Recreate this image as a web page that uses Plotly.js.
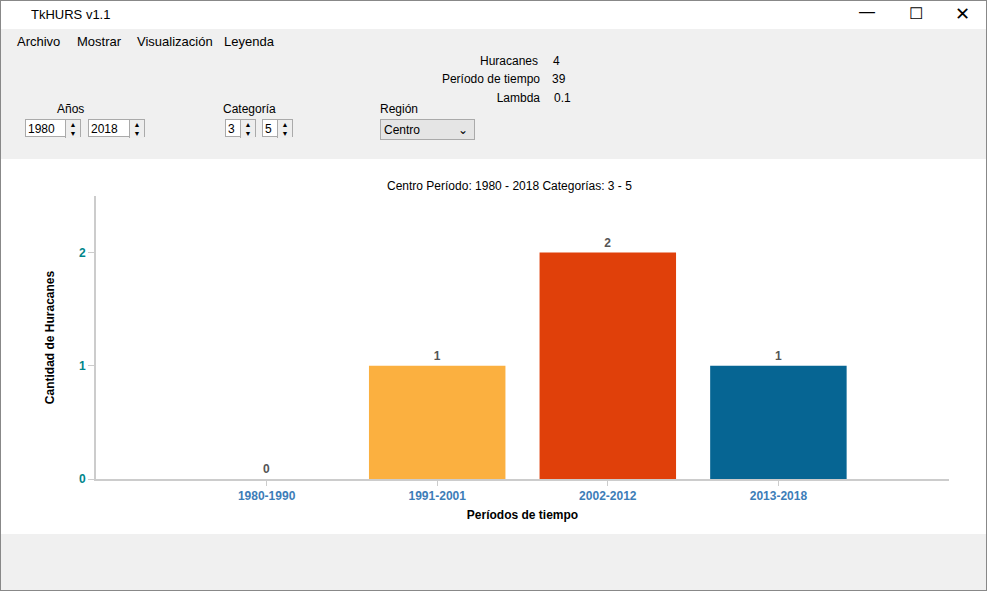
<!DOCTYPE html>
<html><head><meta charset="utf-8">
<script src="https://cdn.plot.ly/plotly-3.0.1.min.js"></script>
<style>
body{margin:0;width:987px;height:591px;overflow:hidden;font-family:"Liberation Sans",Arial,sans-serif;font-size:12px;background:#f0f0f0;}
.win{position:absolute;left:0;top:0;width:985px;height:589px;border:1px solid #888;background:#f0f0f0;}
.titlebar{position:absolute;left:0;top:0;width:985px;height:28px;background:#fff;}
.ab{position:absolute;white-space:nowrap;}
.box{position:absolute;background:#fff;border:1px solid #aaa;height:18px;line-height:18px;padding-left:2px;box-sizing:border-box;}
.spin{position:absolute;width:14px;height:18px;border-left:1px solid #aaa;top:0;right:0;background:#eee;font-size:7px;line-height:9px;text-align:center;}
#plot{position:absolute;left:0;top:158px;width:985px;height:375px;}
</style></head><body>
<div class="win">
<div class="titlebar">
 <div class="ab" style="left:30px;top:6px;font-size:13px">TkHURS v1.1</div>
 <div class="ab" style="left:858px;top:2px;font-size:16px">&#8212;</div>
 <div class="ab" style="left:908px;top:3px;font-size:16px">&#9744;</div>
 <div class="ab" style="left:954px;top:2px;font-size:18px">&#10005;</div>
</div>
<div class="ab" style="left:16px;top:33px;font-size:13px">Archivo</div>
<div class="ab" style="left:76px;top:33px;font-size:13px">Mostrar</div>
<div class="ab" style="left:136px;top:33px;font-size:13px">Visualización</div>
<div class="ab" style="left:223px;top:33px;font-size:13px">Leyenda</div>
<div style="position:absolute;left:0;top:52px;width:985px;height:106px;background:#f0f0f0;"></div>
<div class="ab" style="right:448px;top:53px">Huracanes</div><div class="ab" style="left:552px;top:53px">4</div>
<div class="ab" style="right:446px;top:71px">Período de tiempo</div><div class="ab" style="left:551px;top:71px">39</div>
<div class="ab" style="right:446px;top:90px">Lambda</div><div class="ab" style="left:553px;top:90px">0.1</div>
<div class="ab" style="left:56px;top:101px">Años</div>
<div class="ab" style="left:222px;top:101px">Categoría</div>
<div class="ab" style="left:379px;top:101px">Región</div>
<div class="box" style="left:24px;top:118px;width:56px">1980<div class="spin">▲<br>▼</div></div>
<div class="box" style="left:87px;top:118px;width:57px">2018<div class="spin">▲<br>▼</div></div>
<div class="box" style="left:224px;top:118px;width:31px">3<div class="spin">▲<br>▼</div></div>
<div class="box" style="left:261px;top:118px;width:31px">5<div class="spin">▲<br>▼</div></div>
<div class="box" style="left:379px;top:118px;width:95px;height:21px;line-height:21px;background:#e5e5e5;padding-left:3px">Centro<span style="position:absolute;right:6px">&#8964;</span></div>
<div id="plot"></div>
</div>
<script>
var periodos = ["1980-1990", "1991-2001", "2002-2012", "2013-2018"];
var cantidades = [0, 1, 2, 1];
var colores = ["#FBB040", "#FBB040", "#E0400A", "#066593"];

var trace = {
  x: periodos, y: cantidades, type: "bar", width: 0.8,
  marker: {color: colores},
  text: cantidades.map(String), textposition: "outside",
  textfont: {color: "#555", size: 12, family: "Liberation Sans, Arial", weight: "bold"},
  cliponaxis: false, hoverinfo: "none"
};
var layout = {
  width: 985, height: 375,
  margin: {l: 95, r: 37, t: 37, b: 55},
  paper_bgcolor: "#fff", plot_bgcolor: "#fff",
  font: {family: "Liberation Sans, Arial", size: 12},
  showlegend: false, bargap: 0.2,
  annotations: [{text: "Centro Período: 1980 - 2018 Categorías: 3 - 5", xref: "paper", yref: "paper",
    x: 0.485, y: 1, yshift: 19, showarrow: false, font: {size: 12, color: "#000"}}],
  xaxis: {type: "category", range: [-1, 4], showline: true, linecolor: "#ccc", linewidth: 2,
    ticks: "outside", tickcolor: "#ccc", ticklen: 5, showgrid: false,
    tickfont: {color: "#3D7DB8", size: 12, weight: "bold"},
    title: {text: "Períodos de tiempo", font: {size: 12, color: "#000", weight: "bold"}, standoff: 8}},
  yaxis: {range: [0, 2.5], tickvals: [0, 1, 2], showline: true, linecolor: "#ccc", linewidth: 2,
    ticks: "outside", tickcolor: "#ccc", ticklen: 6, showgrid: false, zeroline: false,
    tickfont: {color: "#00868B", size: 12, weight: "bold"},
    title: {text: "Cantidad de Huracanes", font: {size: 12, color: "#000", weight: "bold"}, standoff: 22}}
};
Plotly.newPlot("plot", [trace], layout, {displayModeBar: false, staticPlot: true});
</script>
</body></html>
